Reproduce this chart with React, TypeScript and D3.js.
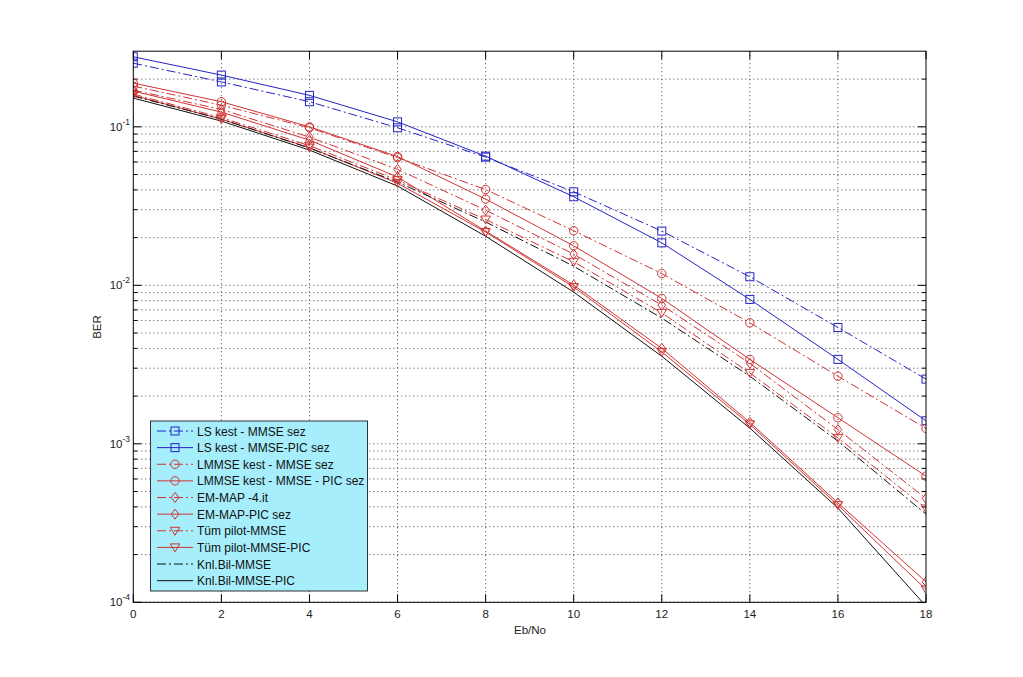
import * as d3 from "d3";

// Eb/No axis (dB)
const EBNO = [0, 2, 4, 6, 8, 10, 12, 14, 16, 18];

// BER values
const LS_MMSE = [0.252, 0.192, 0.144, 0.0986, 0.0644, 0.0389, 0.022, 0.01132, 0.00542, 0.00256];
const LS_PIC = [0.2766, 0.212, 0.158, 0.1075, 0.0653, 0.0362, 0.01854, 0.00815, 0.00341, 0.001397];
const LMMSE_MMSE = [0.1807, 0.137, 0.0986, 0.0639, 0.0402, 0.0221, 0.01186, 0.0058, 0.00267, 0.00125];
const LMMSE_PIC = [0.1887, 0.144, 0.1, 0.0649, 0.035, 0.01775, 0.00827, 0.00341, 0.00146, 0.000625];
const EM_MAP = [0.1704, 0.1288, 0.0861, 0.0539, 0.0298, 0.01573, 0.0075, 0.00322, 0.00123, 0.000452];
const EM_MAP_PIC = [0.168, 0.1238, 0.0824, 0.0482, 0.022, 0.01003, 0.004, 0.001365, 0.000424, 0.0001346];
const PILOT_MMSE = [0.1608, 0.1143, 0.0761, 0.0461, 0.026, 0.01407, 0.0067, 0.0028, 0.00109, 0.000391];
const PILOT_PIC = [0.158, 0.1118, 0.0739, 0.0441, 0.0217, 0.00975, 0.0038, 0.001326, 0.00041, 0.0001206];
const KNOWN_MMSE = [0.1563, 0.1118, 0.0734, 0.0448, 0.0251, 0.0132, 0.00621, 0.00267, 0.00104, 0.00036];
const KNOWN_PIC = [0.1517, 0.1087, 0.0713, 0.0423, 0.0204, 0.00906, 0.00357, 0.001256, 0.000393, 0.0000946];

const LABELS = [
  "LS kest - MMSE sez",
  "LS kest - MMSE-PIC sez",
  "LMMSE kest - MMSE sez",
  "LMMSE kest - MMSE - PIC sez",
  "EM-MAP -4.it",
  "EM-MAP-PIC sez",
  "Tüm pilot-MMSE",
  "Tüm pilot-MMSE-PIC",
  "Knl.Bil-MMSE",
  "Knl.Bil-MMSE-PIC",
];

const X_TICKS = [0, 2, 4, 6, 8, 10, 12, 14, 16, 18];
const Y_DECADES = [-4, -3, -2, -1];

const BLUE = "#2424c4";
const RED = "#d03434";
const BLACK = "#111";
const DASHDOT = "9 3 2 3";

type Marker = "square" | "circle" | "diamond" | "tri" | "none";

const SERIES = [
  { values: LS_MMSE, color: BLUE, dash: true, marker: "square" as Marker },
  { values: LS_PIC, color: BLUE, dash: false, marker: "square" as Marker },
  { values: LMMSE_MMSE, color: RED, dash: true, marker: "circle" as Marker },
  { values: LMMSE_PIC, color: RED, dash: false, marker: "circle" as Marker },
  { values: EM_MAP, color: RED, dash: true, marker: "diamond" as Marker },
  { values: EM_MAP_PIC, color: RED, dash: false, marker: "diamond" as Marker },
  { values: PILOT_MMSE, color: RED, dash: true, marker: "tri" as Marker },
  { values: PILOT_PIC, color: RED, dash: false, marker: "tri" as Marker },
  { values: KNOWN_MMSE, color: BLACK, dash: true, marker: "none" as Marker },
  { values: KNOWN_PIC, color: BLACK, dash: false, marker: "none" as Marker },
].map((s, i) => ({ ...s, label: LABELS[i] }));

const W = 1023;
const H = 677;
const plot = { left: 133.3, right: 926, top: 51.2, bottom: 602.3 };

function markerShape(m: Marker, cx: number, cy: number, color: string, key: string) {
  const common = { fill: "none", stroke: color, strokeWidth: 1 };
  if (m === "square") return <rect key={key} x={cx - 4} y={cy - 4} width={8} height={8} {...common} />;
  if (m === "circle") return <circle key={key} cx={cx} cy={cy} r={4.2} {...common} />;
  if (m === "diamond")
    return <path key={key} d={`M${cx},${cy - 5}L${cx + 3.8},${cy}L${cx},${cy + 5}L${cx - 3.8},${cy}Z`} {...common} />;
  if (m === "tri")
    return <path key={key} d={`M${cx - 4.8},${cy - 3.5}L${cx + 4.8},${cy - 3.5}L${cx},${cy + 4.5}Z`} {...common} />;
  return null;
}

export default function App() {
  const x = d3.scaleLinear().domain([0, 18]).range([plot.left, plot.right]);
  const y = d3.scaleLog().domain([1e-4, 0.3]).range([plot.bottom, plot.top]);

  const line = d3
    .line<number>()
    .x((_, i) => x(EBNO[i]))
    .y((d) => y(d));

  const minor: number[] = [];
  Y_DECADES.forEach((e) => {
    for (let k = 2; k <= 9; k++) {
      const v = k * Math.pow(10, e);
      if (v <= 0.3) minor.push(v);
    }
  });
  const majors = Y_DECADES.map((e) => Math.pow(10, e));

  const font = "'Liberation Sans', Arial, sans-serif";
  const grid = { stroke: "#444", strokeWidth: 1, strokeDasharray: "1 3" };

  const legend = { x: 150.5, y: 421, w: 217, h: 170, row0: 431, step: 16.63 };

  return (
    <svg
      width={W}
      height={H}
      style={{ position: "absolute", left: 0, top: 0, background: "#fff" }}
      fontFamily={font}
    >
      <defs>
        <clipPath id="plotClip">
          <rect x={plot.left} y={plot.top} width={plot.right - plot.left} height={plot.bottom - plot.top} />
        </clipPath>
      </defs>

      {/* grid */}
      <g>
        {X_TICKS.slice(1, -1).map((t) => (
          <line key={`gx${t}`} x1={x(t)} x2={x(t)} y1={plot.top} y2={plot.bottom} {...grid} />
        ))}
        {[...majors, ...minor].map((v) => (
          <line key={`gy${v}`} x1={plot.left} x2={plot.right} y1={y(v)} y2={y(v)} {...grid} />
        ))}
      </g>

      {/* ticks */}
      <g stroke="#000" strokeWidth={1}>
        {X_TICKS.map((t) => (
          <g key={`tx${t}`}>
            <line x1={x(t)} x2={x(t)} y1={plot.bottom} y2={plot.bottom - 8} />
            <line x1={x(t)} x2={x(t)} y1={plot.top} y2={plot.top + 8} />
          </g>
        ))}
        {majors.map((v) => (
          <g key={`ty${v}`}>
            <line x1={plot.left} x2={plot.left + 8} y1={y(v)} y2={y(v)} />
            <line x1={plot.right} x2={plot.right - 8} y1={y(v)} y2={y(v)} />
          </g>
        ))}
        {minor.map((v) => (
          <g key={`tm${v}`}>
            <line x1={plot.left} x2={plot.left + 4} y1={y(v)} y2={y(v)} />
            <line x1={plot.right} x2={plot.right - 4} y1={y(v)} y2={y(v)} />
          </g>
        ))}
      </g>

      {/* series */}
      <g clipPath="url(#plotClip)">
        {SERIES.map((s, i) => (
          <path
            key={`s${i}`}
            d={line(s.values) || ""}
            fill="none"
            stroke={s.color}
            strokeWidth={1}
            strokeDasharray={s.dash ? DASHDOT : undefined}
          />
        ))}
        {SERIES.map((s, i) =>
          s.values.map((v, j) => markerShape(s.marker, x(EBNO[j]), y(v), s.color, `m${i}-${j}`))
        )}
      </g>

      {/* axes box */}
      <rect
        x={plot.left}
        y={plot.top}
        width={plot.right - plot.left}
        height={plot.bottom - plot.top}
        fill="none"
        stroke="#000"
        strokeWidth={1}
      />

      {/* tick labels */}
      <g fontSize={11.5} fill="#222">
        {X_TICKS.map((t) => (
          <text key={`lx${t}`} x={x(t)} y={617.5} textAnchor="middle">
            {t}
          </text>
        ))}
        {Y_DECADES.map((e) => (
          <text key={`ly${e}`} x={130} y={y(Math.pow(10, e)) + 4} textAnchor="end">
            <tspan>10</tspan>
            <tspan dy={-6} fontSize={8.5}>
              {e}
            </tspan>
          </text>
        ))}
        <text x={530} y={634} textAnchor="middle">
          Eb/No
        </text>
        <text transform="translate(101,327) rotate(-90)" textAnchor="middle">
          BER
        </text>
      </g>

      {/* legend */}
      <g>
        <rect x={legend.x} y={legend.y} width={legend.w} height={legend.h} fill="#a6eefc" stroke="#333" strokeWidth={1} />
        {SERIES.map((s, i) => {
          const cy = legend.row0 + i * legend.step;
          return (
            <g key={`lg${i}`}>
              <line
                x1={157}
                x2={193}
                y1={cy}
                y2={cy}
                stroke={s.color}
                strokeWidth={1}
                strokeDasharray={s.dash ? DASHDOT : undefined}
              />
              {markerShape(s.marker, 175, cy, s.color, `lm${i}`)}
              <text x={197} y={cy + 4.5} fontSize={12} fill="#111">
                {s.label}
              </text>
            </g>
          );
        })}
      </g>
    </svg>
  );
}
